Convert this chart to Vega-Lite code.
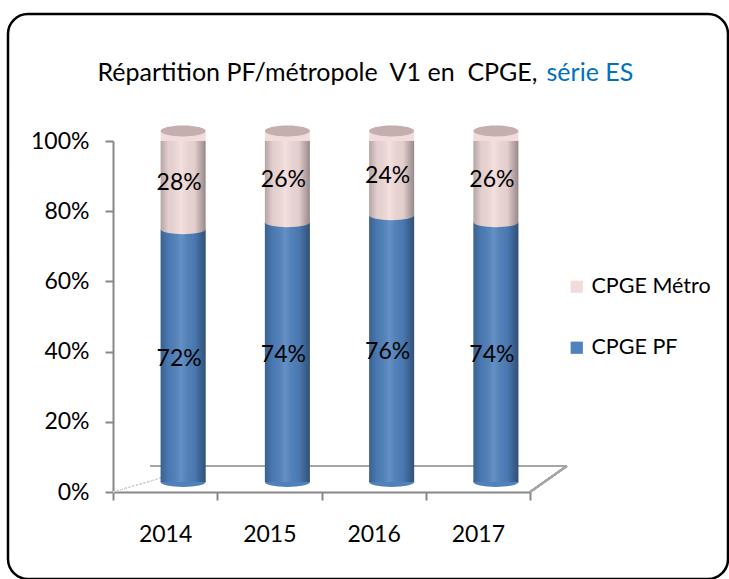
{
  "$schema": "https://vega.github.io/schema/vega-lite/v6.json",
  "width": 720,
  "height": 565,
  "autosize": {"type": "none"},
  "padding": {"left": 8, "top": 14, "right": 1, "bottom": 0},
  "config": {
    "view": {"stroke": "#000000", "strokeWidth": 2.5, "cornerRadius": 20},
    "font": "Lato",
    "axis": {"grid": false, "labelFont": "Lato", "titleFont": "Lato"}
  },
  "data": {
    "values": [
      {"year": "2014", "series": "CPGE PF", "value": 0.72},
      {"year": "2015", "series": "CPGE PF", "value": 0.74},
      {"year": "2016", "series": "CPGE PF", "value": 0.76},
      {"year": "2017", "series": "CPGE PF", "value": 0.74},
      {"year": "2014", "series": "CPGE Métro", "value": 0.28},
      {"year": "2015", "series": "CPGE Métro", "value": 0.26},
      {"year": "2016", "series": "CPGE Métro", "value": 0.24},
      {"year": "2017", "series": "CPGE Métro", "value": 0.26}
    ]
  },
  "encoding": {
    "x": {
      "field": "year",
      "type": "nominal",
      "scale": {"range": [105, 522], "paddingInner": 0, "paddingOuter": 0},
      "axis": {
        "labelAngle": 0,
        "offset": -87,
        "tickBand": "extent",
        "tickSize": 8,
        "tickWidth": 2,
        "tickColor": "#878787",
        "domainColor": "#878787",
        "domainWidth": 2,
        "labelFontSize": 23,
        "labelColor": "#000000",
        "labelPadding": 23,
        "title": "Répartition PF/métropole\u00a0 V1 en\u00a0 CPGE,",
        "titleFontSize": 25,
        "titleFontWeight": "normal",
        "titleColor": "#000000",
        "titleAlign": "left",
        "titleBaseline": "alphabetic",
        "titleAnchor": "start",
        "titleX": 89,
        "titleY": -412
      }
    }
  },
  "layer": [
    {
      "mark": {"type": "rule", "color": "#a6a6a6", "strokeWidth": 2, "xOffset": 37, "x2Offset": 89, "yOffset": -26},
      "encoding": {
        "x": {"datum": "2014", "bandPosition": 0},
        "x2": {"datum": "2017"},
        "y": {"datum": 0}
      }
    },
    {
      "mark": {"type": "rule", "color": "#a6a6a6", "strokeWidth": 2, "x2Offset": 89, "y2Offset": -26},
      "encoding": {
        "x": {"datum": "2017", "bandPosition": 1},
        "x2": {"datum": "2017"},
        "y": {"datum": 0},
        "y2": {"datum": 0}
      }
    },
    {
      "mark": {"type": "rule", "color": "#d4d4d4", "strokeWidth": 1, "strokeDash": [2, 2], "x2Offset": 37, "y2Offset": -26},
      "encoding": {
        "x": {"datum": "2014", "bandPosition": 0},
        "x2": {"datum": "2014"},
        "y": {"datum": 0},
        "y2": {"datum": 0}
      }
    },
    {
      "mark": {"type": "bar", "size": 45, "xOffset": 18, "yOffset": -10},
      "encoding": {
        "y": {
          "field": "value",
          "type": "quantitative",
          "stack": "zero",
          "scale": {"domain": [0, 1], "range": [478, 127]},
          "axis": {
            "values": [0, 0.2, 0.4, 0.6, 0.8, 1],
            "format": ".0%",
            "offset": -105,
            "tickSize": 8,
            "tickWidth": 2,
            "tickColor": "#878787",
            "domainColor": "#878787",
            "domainWidth": 2,
            "labelFontSize": 23,
            "labelColor": "#000000",
            "labelPadding": 16,
            "title": "série ES",
            "titleAngle": 0,
            "titleFontSize": 25,
            "titleFontWeight": "normal",
            "titleColor": "#0070C0",
            "titleAlign": "left",
            "titleBaseline": "alphabetic",
            "titleX": 433,
            "titleY": 66
          }
        },
        "color": {
          "field": "series",
          "type": "nominal",
          "scale": {"domain": ["CPGE Métro", "CPGE PF"], "range": ["#f2dcdb", "#4f81bd"]},
          "legend": {
            "title": null,
            "orient": "none",
            "legendX": 558,
            "legendY": 262,
            "padding": 0,
            "symbolType": "square",
            "symbolSize": 150,
            "symbolStrokeWidth": 0,
            "labelFontSize": 21.5,
            "labelColor": "#000000",
            "labelOffset": 4,
            "rowPadding": 38
          }
        },
        "order": {"field": "series", "sort": "descending"}
      }
    },
    {
      "transform": [{"filter": "datum.series === 'CPGE PF'"}],
      "mark": {"type": "point", "filled": true, "opacity": 1, "size": 2025, "shape": "M-1,0A1,0.22,0,1,1,1,0A1,0.22,0,1,1,-1,0Z", "color": "#4f81bd", "xOffset": 18, "yOffset": -10},
      "encoding": {"y": {"datum": 0}}
    },
    {
      "transform": [{"filter": "datum.series === 'CPGE PF'"}],
      "mark": {"type": "point", "filled": true, "opacity": 1, "size": 2025, "shape": "M-1,0A1,0.22,0,1,1,1,0A1,0.22,0,1,1,-1,0Z", "color": "#f2dcdb", "xOffset": 18, "yOffset": -10},
      "encoding": {"y": {"field": "value", "type": "quantitative"}}
    },
    {
      "transform": [{"filter": "datum.series === 'CPGE PF'"}],
      "mark": {
        "type": "bar", "size": 45, "xOffset": 18, "yOffset": -10,
        "fill": {
          "gradient": "linear", "x1": 0, "x2": 1, "y1": 0, "y2": 0,
          "stops": [
            {"offset": 0, "color": "rgba(0,0,0,0.25)"},
            {"offset": 0.18, "color": "rgba(0,0,0,0.06)"},
            {"offset": 0.45, "color": "rgba(255,255,255,0.12)"},
            {"offset": 0.75, "color": "rgba(0,0,0,0.06)"},
            {"offset": 1, "color": "rgba(0,0,0,0.38)"}
          ]
        }
      },
      "encoding": {"y": {"datum": 0}, "y2": {"datum": 1}}
    },
    {
      "transform": [{"filter": "datum.series === 'CPGE PF'"}],
      "mark": {"type": "point", "filled": true, "opacity": 1, "size": 2025, "shape": "M-1,0A1,0.24,0,1,1,1,0A1,0.24,0,1,1,-1,0Z", "color": "#c4aeae", "xOffset": 18, "yOffset": -10},
      "encoding": {"y": {"datum": 1}}
    },
    {
      "mark": {"type": "text", "fontSize": 23, "color": "#000000", "xOffset": 14, "yOffset": -7},
      "encoding": {
        "y": {"field": "value", "type": "quantitative", "stack": "zero", "bandPosition": 0.5},
        "detail": {"field": "series"},
        "order": {"field": "series", "sort": "descending"},
        "text": {"field": "value", "type": "quantitative", "format": ".0%"}
      }
    }
  ]
}
